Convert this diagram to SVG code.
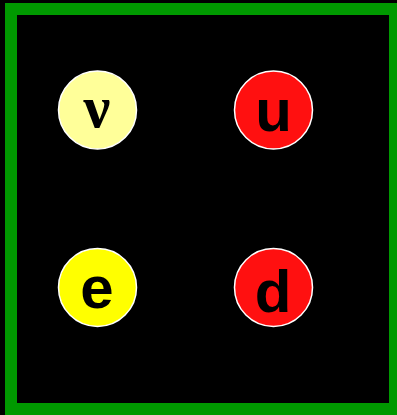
<svg xmlns="http://www.w3.org/2000/svg" width="397" height="415" viewBox="0 0 397 415">
<style>
.p{stroke:#ffffff;stroke-width:1.5}
.t{font-family:"Liberation Sans",Arial,sans-serif;font-weight:bold;font-size:60px;fill:#000000;text-anchor:middle}
.g{font-family:"Liberation Serif","Times New Roman",serif;font-weight:bold;font-size:60px;fill:#000000;text-anchor:middle}
</style>
<rect x="0" y="0" width="397" height="415" fill="#000000"/>
<rect x="11" y="9" width="384" height="400" fill="#000000" stroke="#009900" stroke-width="12"/>
<g id="connectors"></g>
<g id="nu">
<circle class="p" cx="97.5" cy="110" r="39" fill="#ffff99"/>
<text class="g" x="97" y="127">ν</text>
</g>
<g id="u">
<circle class="p" cx="273.5" cy="110" r="39" fill="#ff1010"/>
<text class="t" x="273.5" y="131">u</text>
</g>
<g id="e">
<circle class="p" cx="97.5" cy="287.5" r="39" fill="#ffff00"/>
<text class="t" x="97" y="308">e</text>
</g>
<g id="d">
<circle class="p" cx="273.5" cy="287.5" r="39" fill="#ff1010"/>
<text class="t" x="273" y="312">d</text>
</g>
</svg>
